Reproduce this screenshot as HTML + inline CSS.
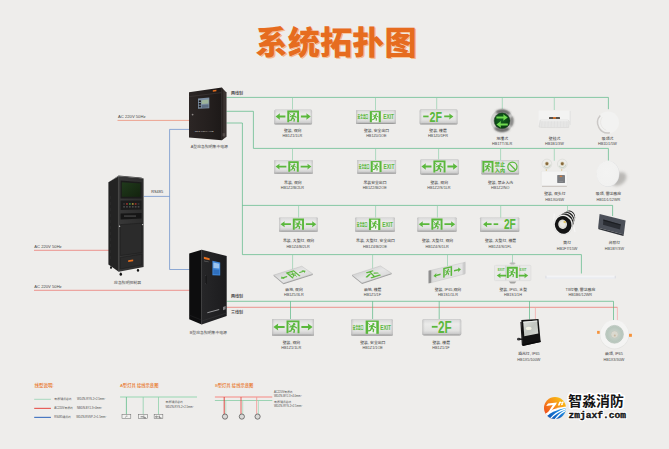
<!DOCTYPE html>
<html><head><meta charset="utf-8"><title>System topology</title>
<style>html,body{margin:0;padding:0;overflow:hidden;background:#eeedeb;font-family:"Liberation Sans",sans-serif;}
svg{display:block}
svg text{font-family:"Liberation Sans","Noto Sans CJK SC",sans-serif;}
svg text.mono{font-family:"Liberation Mono",monospace;}</style></head><body>
<svg width="669" height="449" viewBox="0 0 669 449">
<defs>
<linearGradient id="sg" x1="0" y1="0" x2="0" y2="1">
 <stop offset="0" stop-color="#c6c6c6"/><stop offset="0.07" stop-color="#dcdcdc"/>
 <stop offset="0.3" stop-color="#ebebea"/><stop offset="0.7" stop-color="#e2e2e1"/>
 <stop offset="0.87" stop-color="#cecece"/><stop offset="0.95" stop-color="#a6a6a6"/><stop offset="1" stop-color="#8f8f8f"/>
</linearGradient>
<linearGradient id="sgh" x1="0" y1="0" x2="1" y2="0">
 <stop offset="0" stop-color="#b0b0b0" stop-opacity=".7"/><stop offset="0.07" stop-color="#cfcfcf" stop-opacity="0"/>
 <stop offset="0.93" stop-color="#cfcfcf" stop-opacity="0"/><stop offset="1" stop-color="#b0b0b0" stop-opacity=".7"/>
</linearGradient>

<linearGradient id="cA" x1="0" y1="0" x2="1" y2="0"><stop offset="0" stop-color="#2c2625"/><stop offset="0.6" stop-color="#241f1e"/><stop offset="1" stop-color="#1d1918"/></linearGradient>
<linearGradient id="cAs" x1="0" y1="0" x2="1" y2="0"><stop offset="0" stop-color="#2a2422"/><stop offset="0.7" stop-color="#3f3735"/><stop offset="1" stop-color="#2a2422"/></linearGradient>
<linearGradient id="cBf" x1="0" y1="0" x2="1" y2="0"><stop offset="0" stop-color="#262628"/><stop offset="1" stop-color="#1c1c1e"/></linearGradient>
<linearGradient id="cCf" x1="0" y1="0" x2="1" y2="0"><stop offset="0" stop-color="#383838"/><stop offset="1" stop-color="#2c2c2c"/></linearGradient>
<linearGradient id="scr" x1="0" y1="0" x2="1" y2="1"><stop offset="0" stop-color="#203a1c"/><stop offset="1" stop-color="#13230e"/></linearGradient>

<radialGradient id="steel" cx="0.5" cy="0.5" r="0.5"><stop offset="0.64" stop-color="#8a8a88"/><stop offset="0.70" stop-color="#e3e3e1"/><stop offset="0.84" stop-color="#cfcfcd"/><stop offset="0.93" stop-color="#8a8a88"/><stop offset="1" stop-color="#9d9d9b" stop-opacity="0.2"/></radialGradient>
<radialGradient id="dgreen" cx="0.45" cy="0.4" r="0.6"><stop offset="0" stop-color="#13651f"/><stop offset="1" stop-color="#093b12"/></radialGradient>
<radialGradient id="wdisc" cx="0.60" cy="0.42" r="0.62"><stop offset="0" stop-color="#f6f6f5"/><stop offset="0.78" stop-color="#f3f3f2"/><stop offset="0.9" stop-color="#e3e3e1"/><stop offset="1" stop-color="#d2d2d0"/></radialGradient>
<radialGradient id="wdisc2" cx="0.45" cy="0.45" r="0.6"><stop offset="0" stop-color="#f3f3f2"/><stop offset="0.85" stop-color="#f1f1f0"/><stop offset="1" stop-color="#ececeb"/></radialGradient>
<linearGradient id="plate" x1="0" y1="0" x2="1" y2="1"><stop offset="0" stop-color="#c0c0c0"/><stop offset="0.5" stop-color="#e6e6e6"/><stop offset="1" stop-color="#cdcdcd"/></linearGradient>
<linearGradient id="ip65" x1="0" y1="0" x2="1" y2="0"><stop offset="0" stop-color="#b9b9b9"/><stop offset="0.12" stop-color="#dcdcdc"/><stop offset="0.9" stop-color="#e4e4e4"/><stop offset="1" stop-color="#c4c4c4"/></linearGradient>
<radialGradient id="shadow" cx="0.5" cy="0.5" r="0.5"><stop offset="0.4" stop-color="#a9a9a7" stop-opacity=".7"/><stop offset="1" stop-color="#cfcfcd" stop-opacity="0"/></radialGradient>
<radialGradient id="lens" cx="0.5" cy="0.5" r="0.5"><stop offset="0" stop-color="#d6d8cf"/><stop offset="0.45" stop-color="#c3cec6"/><stop offset="0.85" stop-color="#b7c6bc"/><stop offset="1" stop-color="#c8d3cb"/></radialGradient>
<filter id="b3" x="-20%" y="-20%" width="140%" height="140%"><feGaussianBlur stdDeviation="0.9"/></filter>
<linearGradient id="refl" x1="0" y1="0" x2="1" y2="1"><stop offset="0" stop-color="#dfe2dd"/><stop offset="0.5" stop-color="#c2c6c0"/><stop offset="1" stop-color="#d5d8d3"/></linearGradient>
<filter id="b0" x="-30%" y="-30%" width="160%" height="160%"><feGaussianBlur stdDeviation="0.45"/></filter>
<filter id="b1" x="-20%" y="-20%" width="140%" height="140%"><feGaussianBlur stdDeviation="0.6"/></filter>
<filter id="b2" x="-30%" y="-30%" width="160%" height="160%"><feGaussianBlur stdDeviation="1.4"/></filter>

<linearGradient id="lgo" x1="0.1" y1="0.85" x2="0.8" y2="0.1"><stop offset="0" stop-color="#ee4a1c"/><stop offset="0.45" stop-color="#f57e1a"/><stop offset="1" stop-color="#f9bc14"/></linearGradient>
<linearGradient id="lgb" x1="0" y1="1" x2="1" y2="0"><stop offset="0" stop-color="#0b48a0"/><stop offset="0.55" stop-color="#1672cf"/><stop offset="1" stop-color="#2fb0f4"/></linearGradient>
<clipPath id="lgc"><circle cx="555" cy="408" r="11"/></clipPath>
</defs>
<rect width="669" height="449" fill="#eeedeb"/>
<text x="256.9" y="54.8" font-size="32.2" font-weight="900" fill="#f6b98a" textLength="161.05" lengthAdjust="spacingAndGlyphs">系统拓扑图</text>
<text x="255.6" y="53.6" font-size="32.2" font-weight="900" fill="#e66c1f" stroke="#f7e3d4" stroke-width="0.29" paint-order="stroke" textLength="161.05" lengthAdjust="spacingAndGlyphs">系统拓扑图</text>
<path d="M117.50 120.40 L189.50 120.40" fill="none" stroke="#ec8468" stroke-width="0.70" />
<text x="118.1" y="117.6" font-size="4.15" fill="#4a4a4a">AC 220V 50Hz</text>
<path d="M34.00 250.30 L109.00 250.30" fill="none" stroke="#eb6d66" stroke-width="0.70" />
<text x="34.3" y="247.6" font-size="4.15" fill="#4a4a4a">AC 220V 50Hz</text>
<path d="M34.00 290.30 L189.50 290.30" fill="none" stroke="#eb6d66" stroke-width="0.70" />
<text x="34.3" y="287.7" font-size="4.15" fill="#4a4a4a">AC 220V 50Hz</text>
<path d="M189.50 129.40 L169.60 129.40 L169.60 269.50 L189.50 269.50" fill="none" stroke="#6189c9" stroke-width="0.70" />
<path d="M144.00 196.40 L169.60 196.40" fill="none" stroke="#6189c9" stroke-width="0.70" />
<text x="151.2" y="193" font-size="3.9" font-weight="500" fill="#3a3a3a">RS485</text>
<path d="M226.50 97.40 L608.40 97.40 L608.40 109.20" fill="none" stroke="#58b884" stroke-width="0.70" />
<path d="M292.50 97.40 L292.50 109.50" fill="none" stroke="#90d0ac" stroke-width="0.70" />
<path d="M375.50 97.40 L375.50 110.20" fill="none" stroke="#90d0ac" stroke-width="0.70" />
<path d="M436.70 97.40 L436.70 109.50" fill="none" stroke="#90d0ac" stroke-width="0.70" />
<path d="M502.30 97.40 L502.30 109.00" fill="none" stroke="#90d0ac" stroke-width="0.70" />
<path d="M554.30 97.40 L554.30 110.00" fill="none" stroke="#90d0ac" stroke-width="0.70" />
<path d="M226.50 111.30 L253.40 111.30 L253.40 148.40 L608.40 148.40 L608.40 160.60" fill="none" stroke="#58b884" stroke-width="0.70" />
<path d="M292.50 148.40 L292.50 160.00" fill="none" stroke="#90d0ac" stroke-width="0.70" />
<path d="M375.60 148.40 L375.60 160.00" fill="none" stroke="#90d0ac" stroke-width="0.70" />
<path d="M438.60 148.40 L438.60 160.00" fill="none" stroke="#90d0ac" stroke-width="0.70" />
<path d="M500.60 148.40 L500.60 160.00" fill="none" stroke="#90d0ac" stroke-width="0.70" />
<path d="M554.30 148.40 L554.30 160.70" fill="none" stroke="#90d0ac" stroke-width="0.70" />
<path d="M226.50 123.00 L242.40 123.00 L242.40 254.60 L581.40 254.60 L581.40 273.50" fill="none" stroke="#58b884" stroke-width="0.70" />
<path d="M242.40 205.40 L612.60 205.40 L612.60 216.00" fill="none" stroke="#58b884" stroke-width="0.70" />
<path d="M298.60 205.40 L298.60 217.80" fill="none" stroke="#90d0ac" stroke-width="0.70" />
<path d="M375.60 205.40 L375.60 217.80" fill="none" stroke="#90d0ac" stroke-width="0.70" />
<path d="M437.40 205.40 L437.40 217.80" fill="none" stroke="#90d0ac" stroke-width="0.70" />
<path d="M500.70 205.40 L500.70 217.80" fill="none" stroke="#90d0ac" stroke-width="0.70" />
<path d="M567.50 205.40 L567.50 214.50" fill="none" stroke="#90d0ac" stroke-width="0.70" />
<path d="M292.60 254.60 L292.60 270.00" fill="none" stroke="#90d0ac" stroke-width="0.70" />
<path d="M372.60 254.60 L372.60 268.50" fill="none" stroke="#90d0ac" stroke-width="0.70" />
<path d="M447.50 254.60 L447.50 266.50" fill="none" stroke="#90d0ac" stroke-width="0.70" />
<path d="M512.50 254.60 L512.50 264.00" fill="none" stroke="#90d0ac" stroke-width="0.70" />
<path d="M226.50 307.30 L617.40 307.30" fill="none" stroke="#eb6d66" stroke-width="0.70" />
<path d="M617.40 307.30 L617.40 320.00" fill="none" stroke="#f3a5a3" stroke-width="0.70" />
<path d="M535.40 307.30 L535.40 319.20" fill="none" stroke="#f3a5a3" stroke-width="0.70" />
<path d="M226.50 301.30 L613.50 301.30 L613.50 320.00" fill="none" stroke="#58b884" stroke-width="0.70" />
<path d="M290.50 301.30 L290.50 319.00" fill="none" stroke="#58b884" stroke-width="0.70" />
<path d="M372.60 301.30 L372.60 319.00" fill="none" stroke="#58b884" stroke-width="0.70" />
<path d="M439.20 301.30 L439.20 319.00" fill="none" stroke="#58b884" stroke-width="0.70" />
<path d="M529.50 301.30 L529.50 319.50" fill="none" stroke="#58b884" stroke-width="0.70" />
<text x="230.9" y="94.5" font-size="4" font-weight="500" fill="#2c2c2c">两线制</text>
<text x="230.9" y="297.6" font-size="4" font-weight="500" fill="#2c2c2c">两线制</text>
<text x="230.9" y="314.4" font-size="4" font-weight="500" fill="#2c2c2c">三线制</text>
<polygon points="189.00,92.20 221.80,87.60 221.80,140.20 189.00,137.50" fill="url(#cA)" />
<polygon points="221.80,87.60 226.50,92.60 226.50,136.80 221.80,140.20" fill="url(#cAs)" />
<path d="M189.40 96.60 L221.60 92.60" fill="none" stroke="#4a4240" stroke-width="0.50" />
<path d="M221.80 87.80 L221.80 140.00" fill="none" stroke="#0e0b0a" stroke-width="0.50" />
<polygon points="198.00,98.60 209.30,97.40 209.30,108.20 198.00,108.80" fill="#7d8fa3" />
<polygon points="201.60,100.20 208.50,99.50 208.50,103.40 201.60,103.90" fill="#9db49a" />
<rect x="198.8" y="100.4" width="2.1" height="1.7" fill="#1a1a1c"/>
<rect x="198.8" y="103.0" width="2.1" height="1.7" fill="#1a1a1c"/>
<rect x="198.8" y="105.6" width="2.1" height="1.7" fill="#1a1a1c"/>
<polygon points="201.80,105.00 208.50,104.50 208.50,107.60 201.80,107.90" fill="#5d6e82" />
<polygon points="212.80,90.30 216.40,89.80 216.40,91.30 212.80,91.80" fill="#e8701f" />
<circle cx="192.6" cy="114.6" r="0.9" fill="#8a8684"/>
<text x="194.65" y="131.5" font-size="2.25" font-weight="500" fill="#d9d5d3">CS-D-0.5KVA-HLB</text>
<rect x="222.6" y="133.2" width="2.6" height="3.2" fill="#5a5250" opacity=".8"/>
<text x="190.8" y="148.2" font-size="3.85" fill="#4a4a4a">A型应急照明集中电源</text>
<polygon points="189.20,253.50 201.70,249.70 201.70,324.50 189.20,319.20" fill="#0d0d0e" />
<polygon points="201.70,249.70 226.70,256.00 226.70,316.00 201.70,324.50" fill="url(#cBf)" />
<path d="M201.70 249.90 L201.70 324.30" fill="none" stroke="#38383b" stroke-width="0.45" />
<path d="M201.90 321.00 L226.50 313.00" fill="none" stroke="#3a3a3d" stroke-width="0.50" />
<path d="M189.40 315.20 L201.50 320.00" fill="none" stroke="#262628" stroke-width="0.50" />
<polygon points="212.40,260.80 220.20,262.40 220.20,275.60 212.40,275.20" fill="#3f86d8" />
<polygon points="213.40,262.60 219.30,263.80 219.30,268.60 213.40,268.00" fill="#9cc4ee" />
<polygon points="213.40,269.60 219.30,270.00 219.30,274.40 213.40,274.00" fill="#2f6fbd" />
<polygon points="203.90,256.80 209.60,258.20 209.60,260.30 203.90,258.90" fill="#e8701f" />
<rect x="204.0" y="260.6" width="5" height="0.6" fill="#8c8c8c" opacity=".6" transform="rotate(13 204 260.6)"/>
<rect x="205.5" y="275.4" width="1.3" height="8.6" fill="#050505" stroke="#3c3c40" stroke-width=".3"/>
<polygon points="207.30,312.20 219.20,308.90 219.20,310.00 207.30,313.30" fill="#b4b4b6" opacity=".8"/>
<polygon points="223.00,306.90 225.60,306.10 225.60,309.30 223.00,310.20" fill="#8d8d90" opacity=".9"/>
<text x="189.81" y="333.6" font-size="3.85" fill="#4a4a4a">B型应急照明集中电源</text>
<polygon points="108.40,182.20 118.80,176.20 118.80,271.80 108.40,264.40" fill="#232323" />
<polygon points="118.80,176.20 143.60,178.60 143.60,267.00 118.80,271.80" fill="url(#cCf)" />
<path d="M118.40 176.40 L118.40 271.60" fill="none" stroke="#424242" stroke-width="0.45" />
<polygon points="108.60,182.20 118.40,176.20 143.80,178.60 141.00,177.40 118.60,175.60" fill="#3a3a3a" />
<polygon points="120.60,180.60 141.60,182.20 141.60,198.60 120.60,198.40" fill="#1b1b1b" />
<polygon points="121.80,182.20 140.40,183.60 140.40,196.80 121.80,196.80" fill="url(#scr)" />
<polygon points="120.60,200.60 141.60,200.60 141.60,209.40 120.60,210.00" fill="#1c1c1c" />
<rect x="123.2" y="203.2" width="1.7" height="1.5" fill="#3c3c3c"/>
<rect x="126.1" y="203.2" width="1.7" height="1.5" fill="#a8382f"/>
<rect x="129.0" y="203.2" width="1.7" height="1.5" fill="#3b9444"/>
<rect x="131.9" y="203.2" width="1.7" height="1.5" fill="#b89c38"/>
<rect x="134.8" y="203.2" width="1.7" height="1.5" fill="#a8382f"/>
<rect x="137.7" y="203.2" width="1.7" height="1.5" fill="#3c3c3c"/>
<rect x="123.2" y="206.2" width="1.7" height="1.3" fill="#555"/>
<rect x="126.1" y="206.2" width="1.7" height="1.3" fill="#555"/>
<rect x="129.0" y="206.2" width="1.7" height="1.3" fill="#555"/>
<rect x="131.9" y="206.2" width="1.7" height="1.3" fill="#555"/>
<rect x="134.8" y="206.2" width="1.7" height="1.3" fill="#555"/>
<rect x="137.7" y="206.2" width="1.7" height="1.3" fill="#555"/>
<polygon points="120.60,213.60 141.60,213.00 141.60,218.60 120.60,219.60" fill="#161616" />
<rect x="124" y="215.6" width="12" height="0.9" fill="#5b5b5b"/>
<polygon points="120.40,224.60 141.80,223.20 141.80,252.60 120.40,255.60" fill="#2b2b2b" stroke="#1a1a1a" stroke-width=".5"/>
<circle cx="119.6" cy="226.2" r=".7" fill="#cfcfcf"/><circle cx="142.6" cy="224.6" r=".7" fill="#cfcfcf"/>
<polygon points="120.40,257.40 141.80,254.20 141.80,264.80 120.40,269.00" fill="#2b2b2b" stroke="#1a1a1a" stroke-width=".5"/>
<polygon points="128.20,260.20 133.20,259.50 133.20,261.30 128.20,262.00" fill="#e8701f" />
<rect x="110.2" y="196" width=".7" height="3" fill="#2d2d2d"/>
<rect x="110.2" y="202" width=".7" height="3" fill="#2d2d2d"/>
<rect x="110.2" y="208" width=".7" height="3" fill="#2d2d2d"/>
<rect x="110.2" y="214" width=".7" height="3" fill="#2d2d2d"/>
<rect x="110.2" y="220" width=".7" height="3" fill="#2d2d2d"/>
<rect x="110.2" y="226" width=".7" height="3" fill="#2d2d2d"/>
<rect x="110.2" y="232" width=".7" height="3" fill="#2d2d2d"/>
<rect x="110.2" y="238" width=".7" height="3" fill="#2d2d2d"/>
<rect x="110.2" y="244" width=".7" height="3" fill="#2d2d2d"/>
<rect x="110.2" y="250" width=".7" height="3" fill="#2d2d2d"/>
<rect x="110.2" y="256" width=".7" height="3" fill="#2d2d2d"/>
<ellipse cx="120.8" cy="274.2" rx="1.2" ry="1.6" fill="#151515"/>
<ellipse cx="138.0" cy="270.2" rx="1.1" ry="1.5" fill="#151515"/>
<ellipse cx="111.0" cy="267.6" rx="1.0" ry="1.4" fill="#151515"/>
<text x="114.12" y="283.7" font-size="3.85" fill="#4a4a4a">应急照明控制器</text>
<rect x="274.20" y="109.40" width="37.90" height="15.10" rx="1.60" fill="url(#sg)"/>
<rect x="274.20" y="109.40" width="37.90" height="15.10" rx="1.60" fill="url(#sgh)"/>
<path d="M288.25 122.23 V111.52 H298.05 V122.23" fill="none" stroke="#5ab83c" stroke-width="1.90"/>
<g transform="translate(288.34 111.90) scale(0.962)" fill="none" stroke="#5ab83c" stroke-linecap="round" stroke-linejoin="round"><circle cx="6.0" cy="2.3" r="1.15" fill="#5ab83c" stroke="none"/><path d="M2.2 4.9 L4.6 3.7 L6.6 4.6 L8.2 5.6" stroke-width="1.15"/><path d="M4.9 4.0 L4.2 6.5" stroke-width="1.9"/><path d="M4.3 6.4 L6.3 7.6 L5.9 9.7" stroke-width="1.3"/><path d="M4.1 6.6 L3.0 8.5 L1.4 8.9" stroke-width="1.3"/><path d="M1.0 1.6 L2.6 3.2" stroke-width="0.9"/></g>
<polygon points="275.60,116.50 280.00,113.33 279.65,115.57 285.40,115.57 285.40,117.43 279.65,117.43 280.00,119.67" fill="#5ab83c"/>
<polygon points="310.70,116.50 306.30,113.33 306.65,115.57 300.90,115.57 300.90,117.43 306.65,117.43 306.30,119.67" fill="#5ab83c"/>
<text x="283.89" y="131.5" font-size="3.85" font-weight="500" fill="#4a4a4a">壁装, 双向</text>
<text x="282.5" y="137.1" font-size="3.8" font-weight="500" fill="#4a4a4a">HB1Z1/1LR</text>
<rect x="356.00" y="110.00" width="39.80" height="13.90" rx="1.00" fill="url(#sg)"/>
<rect x="356.00" y="110.00" width="39.80" height="13.90" rx="1.00" fill="url(#sgh)"/>
<rect x="369.81" y="111.11" width="11.01" height="11.12" fill="#5ab83c"/>
<rect x="371.90" y="112.22" width="6.83" height="10.01" fill="#f1f1ef"/>
<g transform="translate(371.24 112.22) scale(0.837)" fill="none" stroke="#5ab83c" stroke-linecap="round" stroke-linejoin="round"><circle cx="6.0" cy="2.3" r="1.15" fill="#5ab83c" stroke="none"/><path d="M2.2 4.9 L4.6 3.7 L6.6 4.6 L8.2 5.6" stroke-width="1.15"/><path d="M4.9 4.0 L4.2 6.5" stroke-width="1.9"/><path d="M4.3 6.4 L6.3 7.6 L5.9 9.7" stroke-width="1.3"/><path d="M4.1 6.6 L3.0 8.5 L1.4 8.9" stroke-width="1.3"/><path d="M1.0 1.6 L2.6 3.2" stroke-width="0.9"/></g>
<text x="357.6" y="118.42" font-size="4.75" font-weight="900" fill="#5ab83c" textLength="10.64" lengthAdjust="spacingAndGlyphs">安全出口</text>
<text x="383.27" y="119.47" font-size="7.7" font-weight="bold" fill="#5ab83c" textLength="10.8" lengthAdjust="spacingAndGlyphs">EXIT</text>
<text x="363.94" y="131.5" font-size="3.85" font-weight="500" fill="#4a4a4a">壁装, 安全出口</text>
<text x="366.13" y="137.1" font-size="3.8" font-weight="500" fill="#4a4a4a">HB1Z0/1OE</text>
<rect x="419.60" y="109.30" width="38.00" height="15.20" rx="1.60" fill="url(#sg)"/>
<rect x="419.60" y="109.30" width="38.00" height="15.20" rx="1.60" fill="url(#sgh)"/>
<rect x="423.20" y="115.59" width="5.4" height="1.7" fill="#5ab83c"/>
<text x="429.6" y="121.88" font-size="14.9" font-weight="900" fill="#5ab83c" textLength="12.5" lengthAdjust="spacingAndGlyphs">2F</text>
<polygon points="453.40,116.44 449.20,113.44 449.55,115.59 444.20,115.59 444.20,117.29 449.55,117.29 449.20,119.44" fill="#5ab83c"/>
<text x="429.29" y="131.5" font-size="3.85" font-weight="500" fill="#4a4a4a">壁装, 楼层</text>
<text x="427.88" y="137.1" font-size="3.8" font-weight="500" fill="#4a4a4a">HB1Z0/1FR</text>
<rect x="274.20" y="160.20" width="38.60" height="13.50" rx="0.60" fill="url(#sg)"/>
<rect x="274.20" y="160.20" width="38.60" height="13.50" rx="0.60" fill="url(#sgh)"/>
<path d="M289.22 171.67 V162.17 H297.78 V171.67" fill="none" stroke="#5ab83c" stroke-width="1.90"/>
<g transform="translate(289.31 162.55) scale(0.838)" fill="none" stroke="#5ab83c" stroke-linecap="round" stroke-linejoin="round"><circle cx="6.0" cy="2.3" r="1.15" fill="#5ab83c" stroke="none"/><path d="M2.2 4.9 L4.6 3.7 L6.6 4.6 L8.2 5.6" stroke-width="1.15"/><path d="M4.9 4.0 L4.2 6.5" stroke-width="1.9"/><path d="M4.3 6.4 L6.3 7.6 L5.9 9.7" stroke-width="1.3"/><path d="M4.1 6.6 L3.0 8.5 L1.4 8.9" stroke-width="1.3"/><path d="M1.0 1.6 L2.6 3.2" stroke-width="0.9"/></g>
<polygon points="275.60,166.54 279.60,163.66 279.25,165.69 286.37,165.69 286.37,167.39 279.25,167.39 279.60,169.42" fill="#5ab83c"/>
<polygon points="311.40,166.54 307.40,163.66 307.75,165.69 300.63,165.69 300.63,167.39 307.75,167.39 307.40,169.42" fill="#5ab83c"/>
<text x="284.09" y="183.6" font-size="3.85" font-weight="500" fill="#4a4a4a">吊装, 双向</text>
<text x="280.69" y="189.2" font-size="3.8" font-weight="500" fill="#4a4a4a">HB1Z2/B/2LR</text>
<rect x="357.20" y="160.00" width="38.90" height="13.70" rx="0.60" fill="url(#sg)"/>
<rect x="357.20" y="160.00" width="38.90" height="13.70" rx="0.60" fill="url(#sgh)"/>
<rect x="370.70" y="161.10" width="10.85" height="10.96" fill="#5ab83c"/>
<rect x="372.76" y="162.19" width="6.73" height="9.86" fill="#f1f1ef"/>
<g transform="translate(372.11 162.19) scale(0.825)" fill="none" stroke="#5ab83c" stroke-linecap="round" stroke-linejoin="round"><circle cx="6.0" cy="2.3" r="1.15" fill="#5ab83c" stroke="none"/><path d="M2.2 4.9 L4.6 3.7 L6.6 4.6 L8.2 5.6" stroke-width="1.15"/><path d="M4.9 4.0 L4.2 6.5" stroke-width="1.9"/><path d="M4.3 6.4 L6.3 7.6 L5.9 9.7" stroke-width="1.3"/><path d="M4.1 6.6 L3.0 8.5 L1.4 8.9" stroke-width="1.3"/><path d="M1.0 1.6 L2.6 3.2" stroke-width="0.9"/></g>
<text x="358.8" y="168.33" font-size="4.75" font-weight="900" fill="#5ab83c" textLength="10.64" lengthAdjust="spacingAndGlyphs">安全出口</text>
<text x="383.57" y="169.38" font-size="7.7" font-weight="bold" fill="#5ab83c" textLength="10.8" lengthAdjust="spacingAndGlyphs">EXIT</text>
<text x="363.45" y="183.7" font-size="3.85" font-weight="500" fill="#4a4a4a">吊装安全出口</text>
<text x="362.63" y="189.3" font-size="3.8" font-weight="500" fill="#4a4a4a">HB1Z2/B/2OE</text>
<rect x="420.00" y="159.20" width="38.90" height="15.60" rx="1.80" fill="url(#sg)"/>
<rect x="420.00" y="159.20" width="38.90" height="15.60" rx="1.80" fill="url(#sgh)"/>
<path d="M434.35 172.46 V161.36 H444.55 V172.46" fill="none" stroke="#5ab83c" stroke-width="1.90"/>
<g transform="translate(434.45 161.74) scale(1.000)" fill="none" stroke="#5ab83c" stroke-linecap="round" stroke-linejoin="round"><circle cx="6.0" cy="2.3" r="1.15" fill="#5ab83c" stroke="none"/><path d="M2.2 4.9 L4.6 3.7 L6.6 4.6 L8.2 5.6" stroke-width="1.15"/><path d="M4.9 4.0 L4.2 6.5" stroke-width="1.9"/><path d="M4.3 6.4 L6.3 7.6 L5.9 9.7" stroke-width="1.3"/><path d="M4.1 6.6 L3.0 8.5 L1.4 8.9" stroke-width="1.3"/><path d="M1.0 1.6 L2.6 3.2" stroke-width="0.9"/></g>
<polygon points="421.40,166.53 425.92,163.27 425.57,165.58 431.50,165.58 431.50,167.49 425.57,167.49 425.92,169.79" fill="#5ab83c"/>
<polygon points="457.50,166.53 452.98,163.27 453.33,165.58 447.40,165.58 447.40,167.49 453.33,167.49 452.98,169.79" fill="#5ab83c"/>
<text x="430.49" y="183.7" font-size="3.85" font-weight="500" fill="#4a4a4a">壁装, 双向</text>
<text x="427.2" y="189.3" font-size="3.8" font-weight="500" fill="#4a4a4a">HB1Z2/S/1LR</text>
<rect x="481.30" y="160.00" width="37.80" height="14.50" rx="1.00" fill="url(#sg)"/>
<rect x="481.30" y="160.00" width="37.80" height="14.50" rx="1.00" fill="url(#sgh)"/>
<path d="M483.35 172.47 V161.92 H492.53 V172.47" fill="none" stroke="#5ab83c" stroke-width="1.90"/>
<g transform="translate(483.45 162.30) scale(0.899)" fill="none" stroke="#5ab83c" stroke-linecap="round" stroke-linejoin="round"><circle cx="6.0" cy="2.3" r="1.15" fill="#5ab83c" stroke="none"/><path d="M2.2 4.9 L4.6 3.7 L6.6 4.6 L8.2 5.6" stroke-width="1.15"/><path d="M4.9 4.0 L4.2 6.5" stroke-width="1.9"/><path d="M4.3 6.4 L6.3 7.6 L5.9 9.7" stroke-width="1.3"/><path d="M4.1 6.6 L3.0 8.5 L1.4 8.9" stroke-width="1.3"/><path d="M1.0 1.6 L2.6 3.2" stroke-width="0.9"/></g>
<text x="494.8" y="166.4" font-size="5.1" font-weight="900" fill="#5ab83c">禁止</text>
<text x="494.8" y="171.7" font-size="5.1" font-weight="900" fill="#5ab83c">入内</text>
<circle cx="512.40" cy="166.81" r="4.6" fill="none" stroke="#5ab83c" stroke-width="1.25"/>
<path d="M509.20 163.62 L515.60 170.01" stroke="#5ab83c" stroke-width="1.25"/>
<text x="487.94" y="183.6" font-size="3.85" font-weight="500" fill="#4a4a4a">壁装, 禁止入内</text>
<text x="490.96" y="189.2" font-size="3.8" font-weight="500" fill="#4a4a4a">HB1Z2/NO</text>
<rect x="279.10" y="217.40" width="38.60" height="14.40" rx="0.80" fill="url(#sg)"/>
<rect x="279.10" y="217.40" width="38.60" height="14.40" rx="0.80" fill="url(#sgh)"/>
<path d="M293.77 229.64 V219.46 H303.03 V229.64" fill="none" stroke="#5ab83c" stroke-width="1.90"/>
<g transform="translate(293.86 219.84) scale(0.907)" fill="none" stroke="#5ab83c" stroke-linecap="round" stroke-linejoin="round"><circle cx="6.0" cy="2.3" r="1.15" fill="#5ab83c" stroke="none"/><path d="M2.2 4.9 L4.6 3.7 L6.6 4.6 L8.2 5.6" stroke-width="1.15"/><path d="M4.9 4.0 L4.2 6.5" stroke-width="1.9"/><path d="M4.3 6.4 L6.3 7.6 L5.9 9.7" stroke-width="1.3"/><path d="M4.1 6.6 L3.0 8.5 L1.4 8.9" stroke-width="1.3"/><path d="M1.0 1.6 L2.6 3.2" stroke-width="0.9"/></g>
<polygon points="280.50,224.17 284.73,221.13 284.38,223.27 290.92,223.27 290.92,225.06 284.38,225.06 284.73,227.21" fill="#5ab83c"/>
<polygon points="316.30,224.17 312.08,221.13 312.43,223.27 305.88,223.27 305.88,225.06 312.43,225.06 312.08,227.21" fill="#5ab83c"/>
<text x="283.01" y="242.1" font-size="3.85" font-weight="500" fill="#4a4a4a">吊装, 大型灯, 双向</text>
<text x="286.39" y="247.7" font-size="3.8" font-weight="500" fill="#4a4a4a">HB1Z4/B/2LR</text>
<rect x="355.20" y="217.40" width="39.60" height="14.40" rx="0.80" fill="url(#sg)"/>
<rect x="355.20" y="217.40" width="39.60" height="14.40" rx="0.80" fill="url(#sgh)"/>
<rect x="368.94" y="218.55" width="11.40" height="11.52" fill="#5ab83c"/>
<rect x="371.11" y="219.70" width="7.07" height="10.37" fill="#f1f1ef"/>
<g transform="translate(370.42 219.70) scale(0.867)" fill="none" stroke="#5ab83c" stroke-linecap="round" stroke-linejoin="round"><circle cx="6.0" cy="2.3" r="1.15" fill="#5ab83c" stroke="none"/><path d="M2.2 4.9 L4.6 3.7 L6.6 4.6 L8.2 5.6" stroke-width="1.15"/><path d="M4.9 4.0 L4.2 6.5" stroke-width="1.9"/><path d="M4.3 6.4 L6.3 7.6 L5.9 9.7" stroke-width="1.3"/><path d="M4.1 6.6 L3.0 8.5 L1.4 8.9" stroke-width="1.3"/><path d="M1.0 1.6 L2.6 3.2" stroke-width="0.9"/></g>
<text x="356.8" y="226.06" font-size="4.75" font-weight="900" fill="#5ab83c" textLength="10.64" lengthAdjust="spacingAndGlyphs">安全出口</text>
<text x="382.27" y="227.11" font-size="7.7" font-weight="bold" fill="#5ab83c" textLength="10.8" lengthAdjust="spacingAndGlyphs">EXIT</text>
<text x="356.06" y="242.1" font-size="3.85" font-weight="500" fill="#4a4a4a">吊装, 大型灯, 安全出口</text>
<text x="363.03" y="247.7" font-size="3.8" font-weight="500" fill="#4a4a4a">HB1Z4/B/2OE</text>
<rect x="417.30" y="217.40" width="39.30" height="14.40" rx="0.80" fill="url(#sg)"/>
<rect x="417.30" y="217.40" width="39.30" height="14.40" rx="0.80" fill="url(#sgh)"/>
<path d="M432.32 229.64 V219.46 H441.58 V229.64" fill="none" stroke="#5ab83c" stroke-width="1.90"/>
<g transform="translate(432.41 219.84) scale(0.907)" fill="none" stroke="#5ab83c" stroke-linecap="round" stroke-linejoin="round"><circle cx="6.0" cy="2.3" r="1.15" fill="#5ab83c" stroke="none"/><path d="M2.2 4.9 L4.6 3.7 L6.6 4.6 L8.2 5.6" stroke-width="1.15"/><path d="M4.9 4.0 L4.2 6.5" stroke-width="1.9"/><path d="M4.3 6.4 L6.3 7.6 L5.9 9.7" stroke-width="1.3"/><path d="M4.1 6.6 L3.0 8.5 L1.4 8.9" stroke-width="1.3"/><path d="M1.0 1.6 L2.6 3.2" stroke-width="0.9"/></g>
<polygon points="418.70,224.17 422.93,221.13 422.57,223.27 429.47,223.27 429.47,225.06 422.57,225.06 422.93,227.21" fill="#5ab83c"/>
<polygon points="455.20,224.17 450.98,221.13 451.33,223.27 444.43,223.27 444.43,225.06 451.33,225.06 450.98,227.21" fill="#5ab83c"/>
<text x="421.91" y="242.1" font-size="3.85" font-weight="500" fill="#4a4a4a">壁装, 大型灯, 双向</text>
<text x="425.4" y="247.7" font-size="3.8" font-weight="500" fill="#4a4a4a">HB1Z4/S/1LR</text>
<rect x="480.00" y="217.40" width="39.30" height="14.40" rx="0.80" fill="url(#sg)"/>
<rect x="480.00" y="217.40" width="39.30" height="14.40" rx="0.80" fill="url(#sgh)"/>
<polygon points="483.00,224.17 487.20,221.17 486.85,223.32 491.60,223.32 491.60,225.02 486.85,225.02 487.20,227.17" fill="#5ab83c"/>
<rect x="493.60" y="223.32" width="4.6" height="1.7" fill="#5ab83c"/>
<text x="503.92" y="229.32" font-size="14.1" font-weight="900" fill="#5ab83c" textLength="11.9" lengthAdjust="spacingAndGlyphs">2F</text>
<text x="484.91" y="242.1" font-size="3.85" font-weight="500" fill="#4a4a4a">壁装, 大型灯, 楼层</text>
<text x="488.57" y="247.7" font-size="3.8" font-weight="500" fill="#4a4a4a">HB1Z4/S/1FL</text>
<rect x="272.00" y="319.10" width="42.00" height="16.70" rx="0.80" fill="url(#sg)"/>
<rect x="272.00" y="319.10" width="42.00" height="16.70" rx="0.80" fill="url(#sgh)"/>
<path d="M287.48 333.30 V321.36 H298.52 V333.30" fill="none" stroke="#5ab83c" stroke-width="1.90"/>
<g transform="translate(287.57 321.74) scale(1.086)" fill="none" stroke="#5ab83c" stroke-linecap="round" stroke-linejoin="round"><circle cx="6.0" cy="2.3" r="1.15" fill="#5ab83c" stroke="none"/><path d="M2.2 4.9 L4.6 3.7 L6.6 4.6 L8.2 5.6" stroke-width="1.15"/><path d="M4.9 4.0 L4.2 6.5" stroke-width="1.9"/><path d="M4.3 6.4 L6.3 7.6 L5.9 9.7" stroke-width="1.3"/><path d="M4.1 6.6 L3.0 8.5 L1.4 8.9" stroke-width="1.3"/><path d="M1.0 1.6 L2.6 3.2" stroke-width="0.9"/></g>
<polygon points="273.40,326.95 278.20,323.49 277.85,325.94 284.63,325.94 284.63,327.96 277.85,327.96 278.20,330.41" fill="#5ab83c"/>
<polygon points="312.60,326.95 307.80,323.49 308.15,325.94 301.37,325.94 301.37,327.96 308.15,327.96 307.80,330.41" fill="#5ab83c"/>
<text x="282.69" y="343.8" font-size="3.85" font-weight="500" fill="#4a4a4a">壁装, 双向</text>
<text x="281.3" y="349.2" font-size="3.8" font-weight="500" fill="#4a4a4a">HB1Z1/1LR</text>
<rect x="351.20" y="319.20" width="41.60" height="16.60" rx="1.00" fill="url(#sg)"/>
<rect x="351.20" y="319.20" width="41.60" height="16.60" rx="1.00" fill="url(#sgh)"/>
<rect x="365.64" y="320.53" width="13.15" height="13.28" fill="#5ab83c"/>
<rect x="368.13" y="321.86" width="8.15" height="11.95" fill="#f1f1ef"/>
<g transform="translate(367.34 321.86) scale(0.999)" fill="none" stroke="#5ab83c" stroke-linecap="round" stroke-linejoin="round"><circle cx="6.0" cy="2.3" r="1.15" fill="#5ab83c" stroke="none"/><path d="M2.2 4.9 L4.6 3.7 L6.6 4.6 L8.2 5.6" stroke-width="1.15"/><path d="M4.9 4.0 L4.2 6.5" stroke-width="1.9"/><path d="M4.3 6.4 L6.3 7.6 L5.9 9.7" stroke-width="1.3"/><path d="M4.1 6.6 L3.0 8.5 L1.4 8.9" stroke-width="1.3"/><path d="M1.0 1.6 L2.6 3.2" stroke-width="0.9"/></g>
<text x="352.8" y="328.92" font-size="4.75" font-weight="900" fill="#5ab83c" textLength="10.64" lengthAdjust="spacingAndGlyphs">安全出口</text>
<text x="380.27" y="329.97" font-size="7.7" font-weight="bold" fill="#5ab83c" textLength="10.8" lengthAdjust="spacingAndGlyphs">EXIT</text>
<text x="360.24" y="343.8" font-size="3.85" font-weight="500" fill="#4a4a4a">壁装, 安全出口</text>
<text x="362.43" y="349.2" font-size="3.8" font-weight="500" fill="#4a4a4a">HB1Z1/1OE</text>
<rect x="422.30" y="319.00" width="39.00" height="16.60" rx="1.80" fill="url(#sg)"/>
<rect x="422.30" y="319.00" width="39.00" height="16.60" rx="1.80" fill="url(#sgh)"/>
<rect x="431.80" y="325.90" width="5.8" height="1.8" fill="#5ab83c"/>
<text x="438.09" y="332.74" font-size="16.3" font-weight="900" fill="#5ab83c" textLength="13.7" lengthAdjust="spacingAndGlyphs">2F</text>
<text x="432.49" y="343.8" font-size="3.85" font-weight="500" fill="#4a4a4a">壁装, 楼层</text>
<text x="432.32" y="349.2" font-size="3.8" font-weight="500" fill="#4a4a4a">HB1Z1/1F</text>
<circle cx="502.10" cy="120.80" r="9.8" fill="none" stroke="#d2d2d0" stroke-width="3.4"/>
<g fill="none" stroke="#585856" stroke-width="3.0" filter="url(#b3)">
<path d="M496.48 112.77 A9.80 9.80 0 0 1 509.38 114.24"/>
<path d="M508.66 128.08 A9.80 9.80 0 0 1 495.17 127.73"/>
<path d="M511.19 117.13 A9.80 9.80 0 0 1 510.41 125.99" stroke="#7c7c7a"/>
</g>
<circle cx="502.10" cy="120.80" r="8.0" fill="url(#dgreen)" stroke="#2c3a2c" stroke-width=".5"/>
<polygon points="507.80,117.50 503.20,114.20 503.55,116.50 496.40,116.50 496.40,118.50 503.55,118.50 503.20,120.80" fill="#6fd94f"/>
<polygon points="496.40,124.40 501.00,121.10 500.65,123.40 507.80,123.40 507.80,125.40 500.65,125.40 501.00,127.70" fill="#6fd94f"/>
<text x="496.53" y="139.5" font-size="3.85" font-weight="500" fill="#4a4a4a">地埋式</text>
<text x="492.11" y="145.1" font-size="3.8" font-weight="500" fill="#4a4a4a">HB1TT/3LR</text>
<rect x="538.60" y="110.50" width="32" height="15" rx="0.6" fill="#f3f3f2"/>
<path d="M570.20 110.90 V125.10" stroke="#dcdcda" stroke-width=".8"/>
<path d="M540.20 120.10 H568.20 Q569.80 120.70 569.20 123.50 L568.60 127.50 Q539.20 127.90 539.00 126.90 Z" fill="#e6e6e5" stroke="#d3d3d1" stroke-width=".5"/>
<path d="M540.60 120.70 H568.20" stroke="#f4f4f3" stroke-width=".8"/>
<path d="M542.10 121.30 L541.60 127.10" stroke="#dadad8" stroke-width=".4"/>
<path d="M545.20 121.30 L544.75 127.10" stroke="#dadad8" stroke-width=".4"/>
<path d="M548.30 121.30 L547.90 127.10" stroke="#dadad8" stroke-width=".4"/>
<path d="M551.40 121.30 L551.05 127.10" stroke="#dadad8" stroke-width=".4"/>
<path d="M554.50 121.30 L554.20 127.10" stroke="#dadad8" stroke-width=".4"/>
<path d="M557.60 121.30 L557.35 127.10" stroke="#dadad8" stroke-width=".4"/>
<path d="M560.70 121.30 L560.50 127.10" stroke="#dadad8" stroke-width=".4"/>
<path d="M563.80 121.30 L563.65 127.10" stroke="#dadad8" stroke-width=".4"/>
<path d="M566.90 121.30 L566.80 127.10" stroke="#dadad8" stroke-width=".4"/>
<rect x="549.00" y="116.90" width="11.0" height="2.0" rx=".5" fill="#56534f"/>
<rect x="553.00" y="117.10" width="3.0" height="1.6" fill="#e07a30"/>
<text x="548.83" y="139.5" font-size="3.85" font-weight="500" fill="#4a4a4a">壁挂式</text>
<text x="544.99" y="145.1" font-size="3.8" font-weight="500" fill="#4a4a4a">HB1B1/3W</text>
<circle cx="608.00" cy="122.50" r="11.00" fill="#f2f2f1"/>
<path d="M609.81 132.74 A10.40 10.40 0 0 1 600.27 115.54" fill="none" stroke="#cbc8c6" stroke-width="1.5" filter="url(#b1)"/>
<path d="M606.26 130.18 A8.60 8.60 0 0 1 602.16 117.17" fill="none" stroke="#e6e4e2" stroke-width="0.8" filter="url(#b1)"/>
<text x="601.83" y="139.5" font-size="3.85" font-weight="500" fill="#4a4a4a">吸顶式</text>
<text x="597.93" y="145.1" font-size="3.8" font-weight="500" fill="#4a4a4a">HB1D1/5W</text>
<path d="M546.30 168.20 V171.20" stroke="#d6be7e" stroke-width=".8"/>
<circle cx="546.90" cy="164.00" r="4.9" fill="#ededea" stroke="#d3d3ce" stroke-width=".5"/>
<path d="M550.45 164.63 A3.60 3.60 0 0 1 543.78 165.80" fill="none" stroke="#c3cdbf" stroke-width="1.2" opacity=".8"/>
<circle cx="546.90" cy="163.80" r="2.2" fill="#d8d0b8"/>
<circle cx="546.90" cy="163.80" r="1.45" fill="#86683a"/>
<path d="M561.70 168.20 V171.20" stroke="#d6be7e" stroke-width=".8"/>
<circle cx="562.30" cy="164.00" r="4.9" fill="#ededea" stroke="#d3d3ce" stroke-width=".5"/>
<path d="M565.85 164.63 A3.60 3.60 0 0 1 559.18 165.80" fill="none" stroke="#c3cdbf" stroke-width="1.2" opacity=".8"/>
<circle cx="562.30" cy="163.80" r="2.2" fill="#d8d0b8"/>
<circle cx="562.30" cy="163.80" r="1.45" fill="#86683a"/>
<rect x="541.40" y="171.20" width="26" height="15.1" rx=".7" fill="#f4f4f3" stroke="#e2e2e0" stroke-width=".4"/>
<path d="M542.00 186.30 H566.80" stroke="#b3aca6" stroke-width=".7"/>
<rect x="557.20" y="175.00" width="7.8" height="8.0" rx=".4" fill="#7b7d81"/>
<rect x="559.70" y="175.80" width="2.5" height="1.0" rx=".3" fill="#ee7f2c"/>
<rect x="559.00" y="181.10" width="4.0" height=".5" fill="#999b9f"/>
<text x="544.17" y="195.2" font-size="3.85" font-weight="500" fill="#4a4a4a">壁装, 双头灯</text>
<text x="545.32" y="200.9" font-size="3.8" font-weight="500" fill="#4a4a4a">HB1X0/6W</text>
<ellipse cx="618.80" cy="179.10" rx="8.5" ry="6.0" fill="#a9a7a4" opacity=".75" filter="url(#b2)" transform="rotate(-35 618.80 179.10)"/>
<ellipse cx="608.10" cy="173.80" rx="11.30" ry="12.90" fill="#d3d5d8"/>
<ellipse cx="607.80" cy="173.70" rx="11.30" ry="12.90" fill="url(#wdisc2)"/>
<text x="595.84" y="195.2" font-size="3.85" font-weight="500" fill="#4a4a4a">吸顶, 雷达感应</text>
<text x="596.4" y="200.9" font-size="3.8" font-weight="500" fill="#4a4a4a">HB1D1/12WR</text>
<path d="M554.30 213.60 L553.70 221.20" stroke="#f6f6f5" stroke-width="1.1"/>
<path d="M573.70 226.40 L575.10 232.20" stroke="#f6f6f5" stroke-width="1.1"/>
<ellipse cx="571.50" cy="218.80" rx="5.60" ry="6.20" fill="#161616" transform="rotate(-16 563.30 224.80)" />
<ellipse cx="570.10" cy="219.80" rx="6.40" ry="7.00" fill="#e9e9e7" transform="rotate(-16 563.30 224.80)" />
<ellipse cx="568.50" cy="220.90" rx="7.00" ry="7.60" fill="#1a1a1a" transform="rotate(-16 563.30 224.80)" />
<ellipse cx="566.90" cy="222.10" rx="7.80" ry="8.40" fill="#e2e2e0" transform="rotate(-16 563.30 224.80)" />
<ellipse cx="565.50" cy="223.10" rx="8.40" ry="9.00" fill="#1c1c1c" transform="rotate(-16 563.30 224.80)" />
<ellipse cx="563.30" cy="224.80" rx="9.50" ry="10.10" fill="#f2f2f0" transform="rotate(-16 563.30 224.80)" stroke="#d4d4d2" stroke-width=".35"/>
<ellipse cx="563.20" cy="224.80" rx="8.30" ry="8.90" fill="#141414" transform="rotate(-16 563.30 224.80)" />
<ellipse cx="562.80" cy="224.10" rx="4.40" ry="4.70" fill="#dddcd6" transform="rotate(-16 563.30 224.80)" />
<ellipse cx="562.60" cy="223.90" rx="2.60" ry="2.80" fill="#eceae2" transform="rotate(-16 563.30 224.80)" />
<ellipse cx="564.70" cy="222.00" rx="1.3" ry="1.0" fill="#e2c45a"/>
<text x="563.35" y="244.4" font-size="3.85" font-weight="500" fill="#4a4a4a">筒灯</text>
<text x="556.7" y="249.8" font-size="3.8" font-weight="500" fill="#4a4a4a">HB1F7/15W</text>
<polygon points="599.60,214.00 625.60,220.60 623.80,234.60 598.10,227.80" fill="#4b4f58" />
<polygon points="598.10,227.80 623.80,234.60 623.40,236.00 598.60,229.20" fill="#2f3238" />
<polygon points="603.40,219.60 620.80,224.40 620.00,229.60 603.00,224.80" fill="#2a2d33" />
<polygon points="603.40,219.60 620.80,224.40 620.70,225.60 603.30,220.80" fill="#1c1e22" />
<text x="608.62" y="244.4" font-size="3.85" font-weight="500" fill="#4a4a4a">台阶灯</text>
<text x="604.82" y="249.8" font-size="3.8" font-weight="500" fill="#4a4a4a">HB1BY/3W</text>
<polygon points="273.60,275.10 301.80,266.20 312.80,273.90 283.40,283.30" fill="url(#plate)" stroke="#b4b4b4" stroke-width=".4"/>
<polygon points="273.60,275.10 283.40,283.30 312.80,273.90 312.60,274.90 283.50,284.30 273.80,276.10" fill="#9f9f9f" />
<g transform="matrix(0.9536 -0.3010 0.7669 0.6417 293.20 274.55)">
<path d="M-3.45 4.20 V-4.00 H3.65 V4.20" fill="none" stroke="#5ab83c" stroke-width="1.50"/>
<g transform="translate(-3.38 -3.70) scale(0.695)" fill="none" stroke="#5ab83c" stroke-linecap="round" stroke-linejoin="round"><circle cx="6.0" cy="2.3" r="1.15" fill="#5ab83c" stroke="none"/><path d="M2.2 4.9 L4.6 3.7 L6.6 4.6 L8.2 5.6" stroke-width="1.15"/><path d="M4.9 4.0 L4.2 6.5" stroke-width="1.9"/><path d="M4.3 6.4 L6.3 7.6 L5.9 9.7" stroke-width="1.3"/><path d="M4.1 6.6 L3.0 8.5 L1.4 8.9" stroke-width="1.3"/><path d="M1.0 1.6 L2.6 3.2" stroke-width="0.9"/></g>
<polygon points="-13.00,0.00 -10.20,-2.20 -10.55,-0.70 -6.40,-0.70 -6.40,0.70 -10.55,0.70 -10.20,2.20" fill="#5ab83c"/>
<polygon points="13.00,0.00 10.20,-2.20 10.55,-0.70 6.40,-0.70 6.40,0.70 10.55,0.70 10.20,2.20" fill="#5ab83c"/>
</g>
<text x="285.29" y="290.9" font-size="3.85" font-weight="500" fill="#4a4a4a">嵌地, 双向</text>
<text x="283.9" y="296.1" font-size="3.8" font-weight="500" fill="#4a4a4a">HB1Z5/3LR</text>
<polygon points="352.00,275.10 380.40,265.90 391.70,273.30 362.00,283.10" fill="url(#plate)" stroke="#b4b4b4" stroke-width=".4"/>
<polygon points="352.00,275.10 362.00,283.10 391.70,273.30 391.50,274.30 362.10,284.10 352.20,276.10" fill="#9f9f9f" />
<g transform="matrix(0.9513 -0.3082 0.7809 0.6247 371.85 274.30)">
<path d="M-6.5 1.2 L-1.5 -0.8 M-2.2 -3.6 L3.8 -3.6 M0.8 -3.6 L-0.2 3.6 M-3.4 3.8 L5.4 3.8 M3.0 -0.4 L5.6 0.8" fill="none" stroke="#5ab83c" stroke-width="1.5" stroke-linecap="round"/>
</g>
<text x="363.89" y="290.9" font-size="3.85" font-weight="500" fill="#4a4a4a">嵌地, 楼层</text>
<text x="363.72" y="296.1" font-size="3.8" font-weight="500" fill="#4a4a4a">HB1Z5/1F</text>
<polygon points="428.70,270.80 465.00,262.30 465.00,273.90 428.70,283.30" fill="url(#ip65)" stroke="#bdbdbd" stroke-width=".4"/>
<polygon points="428.70,270.80 431.20,270.20 431.20,282.70 428.70,283.30" fill="#8f8f8f" />
<polygon points="463.60,262.60 465.40,261.40 465.40,273.60 463.60,274.20" fill="#c9c9c9" />
<g transform="matrix(1 -0.2342 0 1 447.60 272.30)">
<path d="M-3.65 4.40 V-4.60 H3.75 V4.40" fill="none" stroke="#5ab83c" stroke-width="1.50"/>
<g transform="translate(-3.58 -4.30) scale(0.725)" fill="none" stroke="#5ab83c" stroke-linecap="round" stroke-linejoin="round"><circle cx="6.0" cy="2.3" r="1.15" fill="#5ab83c" stroke="none"/><path d="M2.2 4.9 L4.6 3.7 L6.6 4.6 L8.2 5.6" stroke-width="1.15"/><path d="M4.9 4.0 L4.2 6.5" stroke-width="1.9"/><path d="M4.3 6.4 L6.3 7.6 L5.9 9.7" stroke-width="1.3"/><path d="M4.1 6.6 L3.0 8.5 L1.4 8.9" stroke-width="1.3"/><path d="M1.0 1.6 L2.6 3.2" stroke-width="0.9"/></g>
<polygon points="-14.20,0.40 -11.20,-2.00 -11.55,-0.35 -7.00,-0.35 -7.00,1.15 -11.55,1.15 -11.20,2.80" fill="#5ab83c"/>
<polygon points="13.40,0.00 10.40,-2.40 10.75,-0.75 6.40,-0.75 6.40,0.75 10.75,0.75 10.40,2.40" fill="#5ab83c"/>
</g>
<text x="434.68" y="290.9" font-size="3.85" font-weight="500" fill="#4a4a4a">壁装, IP65,双向</text>
<text x="437.89" y="296.1" font-size="3.8" font-weight="500" fill="#4a4a4a">HB1S1/1LR</text>
<rect x="510.6" y="262.6" width="3.8" height="2.8" fill="#cfcfcd"/>
<ellipse cx="512.5" cy="263.3" rx="3.2" ry=".8" fill="#b5b5b3"/>
<path d="M508.8 281.4 H516.4 L514.6 283.6 H510.6 Z" fill="#a3a3a1"/>
<rect x="494.50" y="265.30" width="36.40" height="15.30" rx=".8" fill="#e9e9e8" stroke="#d6d6d4" stroke-width=".5"/>
<rect x="519.00" y="265.70" width="1.2" height="14.50" fill="#d3d3d1"/>
<rect x="505.20" y="265.70" width="1.2" height="14.50" fill="#d3d3d1"/>
<path d="M507.80 278.10 V267.70 H516.80 V278.10" fill="none" stroke="#5ab83c" stroke-width="2.00"/>
<g transform="translate(507.90 268.10) scale(0.880)" fill="none" stroke="#5ab83c" stroke-linecap="round" stroke-linejoin="round"><circle cx="6.0" cy="2.3" r="1.15" fill="#5ab83c" stroke="none"/><path d="M2.2 4.9 L4.6 3.7 L6.6 4.6 L8.2 5.6" stroke-width="1.15"/><path d="M4.9 4.0 L4.2 6.5" stroke-width="1.9"/><path d="M4.3 6.4 L6.3 7.6 L5.9 9.7" stroke-width="1.3"/><path d="M4.1 6.6 L3.0 8.5 L1.4 8.9" stroke-width="1.3"/><path d="M1.0 1.6 L2.6 3.2" stroke-width="0.9"/></g>
<polygon points="496.80,275.60 500.60,272.90 500.25,274.75 506.20,274.75 506.20,276.45 500.25,276.45 500.60,278.30" fill="#5ab83c"/>
<polygon points="528.20,275.60 524.40,272.90 524.75,274.75 518.80,274.75 518.80,276.45 524.75,276.45 524.40,278.30" fill="#5ab83c"/>
<text x="497.8" y="270.6" font-size="3.9" font-weight="bold" fill="#5ab83c" textLength="6.84" lengthAdjust="spacingAndGlyphs">EXIT</text>
<text x="519.6" y="270.6" font-size="3.9" font-weight="bold" fill="#5ab83c" textLength="6.84" lengthAdjust="spacingAndGlyphs">EXIT</text>
<text x="499.45" y="290.9" font-size="3.85" font-weight="500" fill="#4a4a4a">壁装, IP65, 水型</text>
<text x="503.99" y="296.1" font-size="3.8" font-weight="500" fill="#4a4a4a">HB1S1/1H</text>
<rect x="545.4" y="275.6" width="70.4" height="3.0" rx="1.5" fill="#f3f4f6"/>
<rect x="546" y="277.6" width="69" height="0.9" rx=".4" fill="#e6e8ee"/>
<rect x="545.2" y="275.8" width="1.4" height="2.6" fill="#dfe0e4"/><rect x="614.6" y="275.8" width="1.4" height="2.6" fill="#dfe0e4"/>
<text x="565.57" y="290.5" font-size="3.85" font-weight="500" fill="#4a4a4a">T8灯管, 雷达感应</text>
<text x="568.46" y="295.9" font-size="3.8" font-weight="500" fill="#4a4a4a">HB1B6/12WR</text>
<ellipse cx="518.7" cy="339.2" rx="1.7" ry="1.4" fill="#3a3a3c"/>
<path d="M519 339.2 H523" stroke="#262626" stroke-width="1.6"/>
<path d="M521.0 322 L522.4 345" stroke="#1b1b1b" stroke-width="1.2"/>
<polygon points="521.30,320.00 538.50,319.00 540.70,341.90 522.60,346.00" fill="#121212" />
<polygon points="522.60,346.00 540.70,341.90 540.40,340.40 522.50,344.40" fill="#0a0a0a" />
<polygon points="523.2,321.8 537.2,320.5 538.3,333.4 524.3,336.2" fill="url(#refl)"/>
<ellipse cx="528.8" cy="328.4" rx="2.9" ry="1.7" fill="#f4f5e6" filter="url(#b0)"/>
<polygon points="523.20,321.80 537.20,320.50 537.30,321.50 523.30,322.80" fill="#e9ebe8" />
<text x="518.18" y="355.4" font-size="3.85" font-weight="500" fill="#4a4a4a">投光灯, IP65</text>
<text x="517.36" y="361.2" font-size="3.8" font-weight="500" fill="#4a4a4a">HB1X5/100W</text>
<rect x="597.10" y="330.90" width="2.6" height="2.9" fill="#f5923a"/>
<rect x="629.00" y="333.80" width="2.9" height="3.0" fill="#f5923a"/>
<circle cx="614.50" cy="334.80" r="14.6" fill="#dcdcda" opacity=".55" filter="url(#b1)"/>
<circle cx="614.50" cy="334.30" r="14.2" fill="#f4f4f3"/>
<circle cx="614.50" cy="334.30" r="8.9" fill="url(#lens)" stroke="#aab8ae" stroke-width=".6"/>
<circle cx="614.60" cy="334.50" r="3.7" fill="#dad9cf" stroke="#b9c2b8" stroke-width=".5"/>
<circle cx="614.80" cy="335.60" r="1.0" fill="#c8b8a0"/>
<text x="605.11" y="355.4" font-size="3.85" font-weight="500" fill="#4a4a4a">嵌顶, IP65</text>
<text x="603.44" y="361.2" font-size="3.8" font-weight="500" fill="#4a4a4a">HB1X3/30W</text>
<text x="34.4" y="386.7" font-size="4.5" font-weight="500" fill="#e8741f">线型说明:</text>
<path d="M34.20 399.30 L50.90 399.30" fill="none" stroke="#9fd6b8" stroke-width="0.90" />
<path d="M34.20 408.40 L50.90 408.40" fill="none" stroke="#e7605b" stroke-width="1.20" />
<path d="M34.20 417.40 L50.90 417.40" fill="none" stroke="#4a79c2" stroke-width="1.20" />
<text x="54.2" y="400.3" font-size="2.75" fill="#505050">电源/通讯总线</text>
<text x="77.1" y="400.3" font-size="2.75" fill="#505050">WDZN-RYS-2×2.5mm²</text>
<text x="54.2" y="409.4" font-size="2.75" fill="#505050">AC220V电源线</text>
<text x="77.1" y="409.4" font-size="2.75" fill="#505050">NBDN-BYJ-3×4mm²</text>
<text x="54.2" y="418.4" font-size="2.75" fill="#505050">RS485通讯线</text>
<text x="76.2" y="418.4" font-size="2.75" fill="#505050">WDZN-RVSP-2×1.5mm²</text>
<text x="120" y="386.7" font-size="4.3" font-weight="500" fill="#e8741f">A型灯具 接线示意图</text>
<path d="M120.10 397.00 L197.00 397.00" fill="none" stroke="#b3dec5" stroke-width="1.40" />
<path d="M126.40 397.00 L126.40 414.60" fill="none" stroke="#62bc8a" stroke-width="0.80" />
<rect x="122.00" y="414.5" width="8.80" height="4.2" fill="#f2f2f0" stroke="#666" stroke-width=".5"/>
<path d="M143.20 397.00 L143.20 414.60" fill="none" stroke="#8fd0ab" stroke-width="0.80" />
<rect x="138.70" y="414.5" width="9.00" height="4.2" fill="#f2f2f0" stroke="#666" stroke-width=".5"/>
<path d="M158.50 397.00 L158.50 414.60" fill="none" stroke="#8fd0ab" stroke-width="0.80" />
<rect x="154.15" y="414.5" width="8.70" height="4.2" fill="#f2f2f0" stroke="#666" stroke-width=".5"/>
<path d="M125.4 417.6 L126.6 415.8 L127.4 416.2" fill="none" stroke="#444" stroke-width=".45"/>
<path d="M140.6 416.8 H143 M143.8 415.6 V417.8 H146" fill="none" stroke="#333" stroke-width=".6"/>
<path d="M155.6 416.8 H158.6 M156.6 415.9 L155.6 416.8 L156.6 417.7 M159.4 415.6 V417.8 H161.4" fill="none" stroke="#333" stroke-width=".55"/>
<text x="165.4" y="403.2" font-size="2.75" fill="#505050">电源/通讯总线</text>
<text x="165.4" y="407.7" font-size="2.75" fill="#505050">WDZN-RYS-2×2.5mm²</text>
<text x="214.9" y="386.7" font-size="4.3" font-weight="500" fill="#e8741f">B型灯具 接线示意图</text>
<path d="M214.90 397.00 L272.30 397.00" fill="none" stroke="#f3a9a5" stroke-width="1.70" />
<path d="M214.90 400.50 L272.30 400.50" fill="none" stroke="#86cba5" stroke-width="0.80" />
<path d="M224.20 397.00 L224.20 414.20" fill="none" stroke="#dc3a34" stroke-width="0.90" />
<path d="M225.80 400.50 L225.80 414.20" fill="none" stroke="#a2d8ba" stroke-width="0.70" />
<circle cx="225.00" cy="416.6" r="2.6" fill="#dad9d7" stroke="#4a4a4a" stroke-width=".7"/>
<path d="M241.00 397.00 L241.00 414.20" fill="none" stroke="#e4504a" stroke-width="0.90" />
<path d="M242.70 400.50 L242.70 414.20" fill="none" stroke="#a2d8ba" stroke-width="0.70" />
<circle cx="241.85" cy="416.6" r="2.6" fill="#dad9d7" stroke="#4a4a4a" stroke-width=".7"/>
<path d="M256.70 397.00 L256.70 414.20" fill="none" stroke="#f29b96" stroke-width="0.90" />
<path d="M258.50 400.50 L258.50 414.20" fill="none" stroke="#a2d8ba" stroke-width="0.70" />
<circle cx="257.60" cy="416.6" r="2.6" fill="#dad9d7" stroke="#4a4a4a" stroke-width=".7"/>
<text x="274" y="393" font-size="2.75" fill="#505050">AC220V电源线</text>
<text x="274" y="396.6" font-size="2.75" fill="#505050">WDZN-BYJ-3×4.0mm²</text>
<text x="274" y="402.5" font-size="2.75" fill="#505050">电源/通讯总线</text>
<text x="274" y="406.5" font-size="2.75" fill="#505050">WDZN-RYS-2×2.5mm²</text>
<circle cx="555.00" cy="408.00" r="11.00" fill="url(#lgo)"/>
<g clip-path="url(#lgc)">
<path d="M541 417.5 C547 411 556 407.2 568 406.2 L568 422 L541 422 Z" fill="#fff"/>
<path d="M543.5 419 C549 413 557 409 568 407.6 L568 422 L543.5 422 Z" fill="url(#lgb)"/>
<path d="M548.6 421 C552.4 415.4 558 411.2 566 408.8" fill="none" stroke="#fff" stroke-width="1.2"/>
<path d="M553.4 422 C556.2 417 560.4 412.8 566.4 410.2" fill="none" stroke="#fff" stroke-width="1.1"/>
</g>
<path d="M546.2 405.9 L548.0 403.5 L556.9 402.6 L556.0 404.6 L548.8 414.0 L545.6 416.2 L552.8 404.9 Z" fill="#fff"/>
<path d="M557.8 405.6 L559.4 401.7 L561.0 401.6 L559.6 405.4 Z M560.8 405.2 L562.3 401.6 L563.8 401.8 L562.6 405.0 Z M559.6 402.4 L563.6 402.0 L563.4 402.9 L559.4 403.3 Z" fill="#fff"/>
<text x="568.3" y="406.2" font-size="13.9" font-weight="bold" fill="#fff" stroke="#fff" stroke-width="3.2" stroke-linejoin="round">智淼消防</text>
<text class="mono" x="568.4" y="417.7" font-size="9.6" font-weight="bold" fill="#fff" stroke="#fff" stroke-width="2.69" stroke-linejoin="round" textLength="57.6" lengthAdjust="spacingAndGlyphs">zmjaxf.com</text>
<text x="568.3" y="406.2" font-size="13.9" font-weight="bold" fill="#141414">智淼消防</text>
<text class="mono" x="568.4" y="417.7" font-size="9.6" font-weight="bold" fill="#141414" stroke="#141414" stroke-width="0.365" stroke-linejoin="round" textLength="57.6" lengthAdjust="spacingAndGlyphs">zmjaxf.com</text>
</svg></body></html>
